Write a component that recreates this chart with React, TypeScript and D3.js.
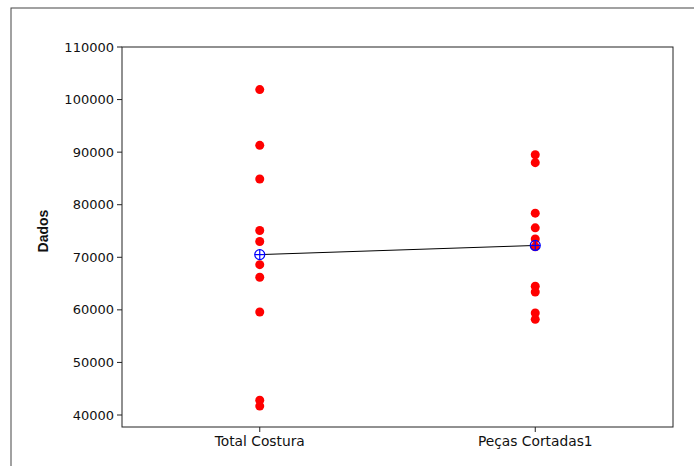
import React from 'react';
import * as d3 from 'd3';

const categories = ['Total Costura', 'Peças Cortadas1'];
const totalCostura = [101900, 91300, 84900, 75100, 73000, 68600, 66200, 59600, 42800, 41700];
const pecasCortadas = [89500, 88000, 78400, 75600, 73500, 72000, 64500, 63400, 59400, 58200];
const yTicks = [40000, 50000, 60000, 70000, 80000, 90000, 100000, 110000];

const series = [totalCostura, pecasCortadas];

const App = () => {
    const width = 694;
    const height = 466;
    const box = { left: 122, right: 673, top: 47, bottom: 427 };

    const xScale = d3.scalePoint<string>()
        .domain(categories)
        .range([box.left, box.right])
        .padding(0.5);

    const yScale = d3.scaleLinear()
        .domain([40000, 110000])
        .range([415, 47]);

    const means = series.map((vals, i) => ({ cat: categories[i], m: d3.mean(vals) as number }));
    const meanLine = d3.line<{ cat: string; m: number }>()
        .x(d => xScale(d.cat) as number)
        .y(d => yScale(d.m));

    const font = '"DejaVu Sans", sans-serif';

    return (
        <svg width={width} height={height} style={{ position: 'absolute', left: 0, top: 0 }}>
            <rect x={11} y={8} width={720} height={520} fill="white" stroke="#444" strokeWidth={1} />
            <rect x={box.left} y={box.top} width={box.right - box.left} height={box.bottom - box.top}
                fill="white" stroke="#222" strokeWidth={1} />

            {yTicks.map(t => (
                <g key={t} transform={`translate(${box.left},${yScale(t)})`}>
                    <line x1={-5} x2={0} stroke="#222" />
                    <text x={-8} dy="0.35em" textAnchor="end" fontFamily={font} fontSize={13} fill="#111">{t}</text>
                </g>
            ))}
            {categories.map(c => (
                <g key={c} transform={`translate(${xScale(c)},${box.bottom})`}>
                    <line y1={0} y2={5} stroke="#222" />
                    <text y={19} textAnchor="middle" fontFamily={font} fontSize={13.8} fill="#111">{c}</text>
                </g>
            ))}
            <text transform={`translate(48,231) rotate(-90)`} textAnchor="middle"
                fontFamily='"Liberation Sans", Arial, sans-serif' fontSize={14} fontWeight="bold" fill="#111">Dados</text>

            {series.map((vals, i) => vals.map((v, j) => (
                <circle key={`${i}-${j}`} cx={xScale(categories[i])} cy={yScale(v)} r={4.5} fill="#ff0000" />
            )))}

            <path d={meanLine(means) as string} fill="none" stroke="#000" strokeWidth={1} />
            {means.map(d => {
                const cx = xScale(d.cat) as number;
                const cy = yScale(d.m);
                return (
                    <g key={d.cat} stroke="#0000ff" strokeWidth={1.2} fill="none">
                        <circle cx={cx} cy={cy} r={5} />
                        <line x1={cx - 5} x2={cx + 5} y1={cy} y2={cy} />
                        <line x1={cx} x2={cx} y1={cy - 5} y2={cy + 5} />
                    </g>
                );
            })}
        </svg>
    );
};

export default App;
